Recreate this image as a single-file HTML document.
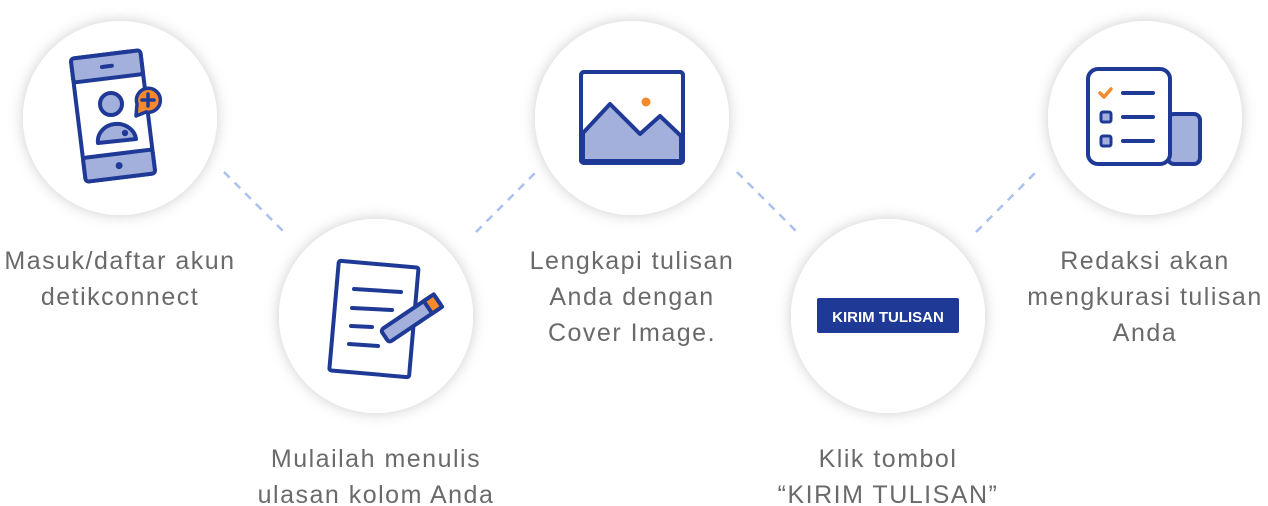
<!DOCTYPE html>
<html><head><meta charset="utf-8"><style>
html,body{margin:0;padding:0;background:#fff;}
svg{display:block}
text{font-family:"Liberation Sans",sans-serif;}
.t{font-size:25px;fill:#6a6a6a;text-anchor:middle;letter-spacing:1.5px}
</style></head><body>
<svg width="1268" height="506" viewBox="0 0 1268 506" xmlns="http://www.w3.org/2000/svg">
<defs><filter id="sh" x="-30%" y="-30%" width="160%" height="160%"><feGaussianBlur in="SourceAlpha" stdDeviation="7"/><feColorMatrix values="0 0 0 0 0 0 0 0 0 0 0 0 0 0 0 0 0 0 0.2 0"/><feMerge><feMergeNode/><feMergeNode in="SourceGraphic"/></feMerge></filter></defs>
<g stroke="#a9c3ef" stroke-width="2.5" stroke-dasharray="8,7">
<line x1="224" y1="172" x2="284" y2="232"/><line x1="476" y1="232" x2="536" y2="172"/>
<line x1="737" y1="172" x2="797" y2="232"/><line x1="976" y1="232" x2="1036" y2="172"/>
</g>
<g fill="#fff" filter="url(#sh)">
<circle cx="120" cy="118" r="97"/><circle cx="376" cy="316" r="97"/><circle cx="632" cy="118" r="97"/><circle cx="888" cy="316" r="97"/><circle cx="1145" cy="118" r="97"/>
</g>
<g stroke="#1f3a96" stroke-width="4" stroke-linejoin="round" stroke-linecap="round">
<g transform="rotate(-7 113 116)">
<rect x="78" y="54" width="70" height="124" rx="4" fill="#fff"/>
<rect x="78" y="54" width="70" height="24" rx="3" fill="#a4b0dc"/>
<rect x="78" y="154" width="70" height="24" rx="3" fill="#a4b0dc"/>
<line x1="108" y1="66" x2="118" y2="66"/>
<circle cx="113" cy="166" r="1.5" fill="#1f3a96"/>
</g>
<circle cx="111" cy="104" r="11" fill="#a4b0dc"/>
<path d="M98 143 A19 17 0 0 1 136 139 Z" fill="#a4b0dc"/>
<circle cx="125" cy="133" r="1.2" fill="#1f3a96"/>
<path d="M136 116 L137 104 A12 12 0 1 1 146 112 Z" fill="#f58a2a" stroke-width="3.5"/>
<path d="M148 94 v12 M142 100 h12" stroke-width="3.5"/>
<g transform="rotate(5 374 318)">
<rect x="334" y="264" width="80" height="110" rx="2" fill="#fff"/>
</g>
<line x1="354" y1="289" x2="401" y2="292"/>
<line x1="352" y1="308" x2="392" y2="310"/>
<line x1="351" y1="326" x2="372" y2="327"/>
<line x1="349" y1="344" x2="378" y2="346"/>
<g transform="rotate(-34 410 320)">
<rect x="380" y="312" width="64" height="15" rx="3" fill="#a4b0dc"/>
<rect x="432" y="312" width="12" height="15" fill="#f58a2a"/>
</g>
<rect x="581" y="72" width="102" height="91" rx="3" fill="#fff"/>
<path d="M583 161 V133 L610 104 L640 134 L660 116 L681 136 V161 Z" fill="#a4b0dc"/>
<rect x="581" y="72" width="102" height="91" rx="3" fill="none"/>
<rect x="1168" y="114" width="32" height="50" rx="6" fill="#a4b0dc"/>
<rect x="1088" y="69" width="82" height="95" rx="10" fill="#fff"/>
<line x1="1123" y1="93" x2="1153" y2="93"/>
<line x1="1123" y1="117" x2="1153" y2="117"/>
<line x1="1123" y1="141" x2="1153" y2="141"/>
<rect x="1101" y="112" width="10" height="10" rx="2" fill="#a4b0dc" stroke-width="3"/>
<rect x="1101" y="136" width="10" height="10" rx="2" fill="#a4b0dc" stroke-width="3"/>
<path d="M1100 93 l4 4 l7 -8" stroke="#f58a2a" fill="none" stroke-width="3.5"/>
</g>
<circle cx="646" cy="102" r="4.5" fill="#f58a2a"/>
<rect x="817" y="298" width="142" height="35" rx="2" fill="#1f3a96"/>
<text x="888" y="322" font-size="15" font-weight="bold" fill="#fff" text-anchor="middle">KIRIM TULISAN</text>
<text class="t" x="120" y="269">Masuk/daftar akun</text>
<text class="t" x="120" y="305">detikconnect</text>
<text class="t" x="376" y="467">Mulailah menulis</text>
<text class="t" x="376" y="503">ulasan kolom Anda</text>
<text class="t" x="632" y="269">Lengkapi tulisan</text>
<text class="t" x="632" y="305">Anda dengan</text>
<text class="t" x="632" y="341">Cover Image.</text>
<text class="t" x="888" y="467">Klik tombol</text>
<text class="t" x="888" y="503">“KIRIM TULISAN”</text>
<text class="t" x="1145" y="269">Redaksi akan</text>
<text class="t" x="1145" y="305">mengkurasi tulisan</text>
<text class="t" x="1145" y="341">Anda</text>
</svg>
</body></html>
